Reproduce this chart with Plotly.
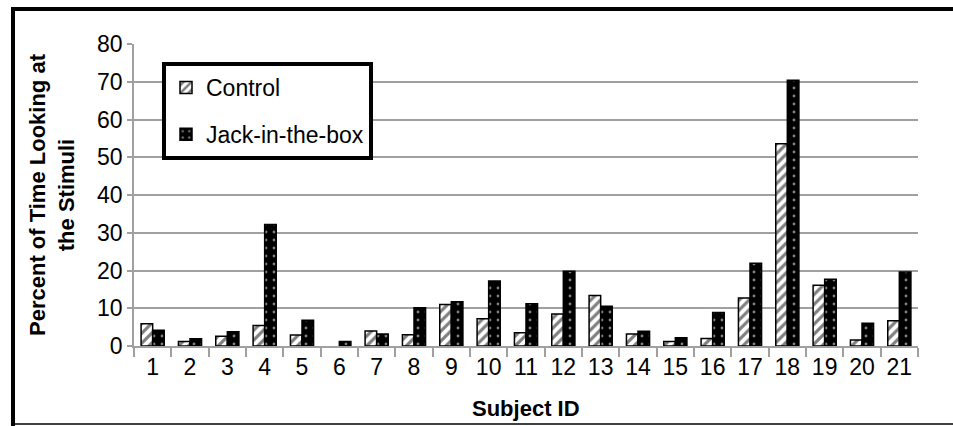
import plotly.graph_objects as go

subjects = [str(i) for i in range(1, 22)]
control = [5.9, 1.2, 2.6, 5.4, 2.9, None, 4.0, 3.0, 11.0, 7.2, 3.5, 8.5, 13.4, 3.2, 1.2, 2.0, 12.7, 53.6, 16.1, 1.6, 6.7]
jack = [4.2, 1.9, 3.8, 32.2, 6.8, 1.2, 3.2, 10.1, 11.7, 17.2, 11.2, 19.8, 10.5, 3.9, 2.2, 8.9, 21.9, 70.4, 17.7, 6.0, 19.6]

FONT = "Liberation Sans"

# plot area in pixels
L, R, T, B = 134, 918, 44, 346
W, H = 953, 426

def px_x(x):
    return (x - L) / (R - L)

def px_y(y):
    return (B - y) / (B - T)

fig = go.Figure()
fig.add_trace(go.Bar(
    x=subjects, y=control, name="Control", legendgroup="a",
    marker=dict(color="white", line=dict(color="black", width=1.5),
                pattern=dict(shape="/", fgcolor="black", bgcolor="white", size=7, solidity=0.45)),
))
fig.add_trace(go.Bar(
    x=subjects, y=jack, name="Jack-in-the-box", legendgroup="b",
    marker=dict(color="black", line=dict(color="black", width=1.5),
                pattern=dict(shape=".", fgcolor="white", bgcolor="black", size=8, solidity=0.1)),
))

shapes = [
    dict(type="line", xref="paper", yref="paper", x0=px_x(13), x1=px_x(13), y0=px_y(7), y1=px_y(426), line=dict(color="black", width=4)),
    dict(type="line", xref="paper", yref="paper", x0=px_x(11), x1=px_x(960), y0=px_y(9), y1=px_y(9), line=dict(color="black", width=4)),
    dict(type="line", xref="paper", yref="paper", x0=px_x(11), x1=px_x(960), y0=px_y(424), y1=px_y(424), line=dict(color="black", width=1.5)),
]

annotations = [
    dict(text="<b>Percent of Time Looking at<br>the Stimuli</b>", xref="paper", yref="paper",
         x=px_x(52), y=0.5, textangle=-90, showarrow=False, xanchor="center", yanchor="middle",
         font=dict(family=FONT, size=22, color="black")),
    dict(text="<b>Subject ID</b>", xref="paper", yref="paper",
         x=0.5, y=px_y(408), showarrow=False, xanchor="center", yanchor="middle",
         font=dict(family=FONT, size=22, color="black")),
]

fig.update_layout(
    width=W, height=H,
    margin=dict(l=L, r=W - R, t=T, b=H - B),
    paper_bgcolor="white", plot_bgcolor="white",
    barmode="group", bargap=0.38, bargroupgap=0.0,
    font=dict(family=FONT, size=23, color="black"),
    showlegend=True,
    legend=dict(x=px_x(162), y=px_y(62), xanchor="left", yanchor="top",
                bordercolor="black", borderwidth=4, bgcolor="white",
                font=dict(family=FONT, size=23, color="black"),
                traceorder="grouped", tracegroupgap=14,
                itemwidth=30),
    xaxis=dict(type="category", tickson="boundaries", ticks="outside", ticklen=9,
               tickcolor="#a0a0a0", tickwidth=1.5, showline=True, linecolor="#a0a0a0", linewidth=1.5,
               showgrid=False, tickfont=dict(family=FONT, size=23, color="black")),
    yaxis=dict(range=[0, 80], dtick=10, ticks="outside", ticklen=5, tickcolor="#a0a0a0", tickwidth=1.5,
               showline=True, linecolor="#a0a0a0", linewidth=1.5,
               showgrid=True, gridcolor="#a0a0a0", gridwidth=1.5, zeroline=False,
               tickfont=dict(family=FONT, size=23, color="black")),
    shapes=shapes, annotations=annotations,
)

fig.write_html("out.html", config={"displayModeBar": False},
               post_script="document.body.style.margin='0';document.body.style.overflow='hidden';")
